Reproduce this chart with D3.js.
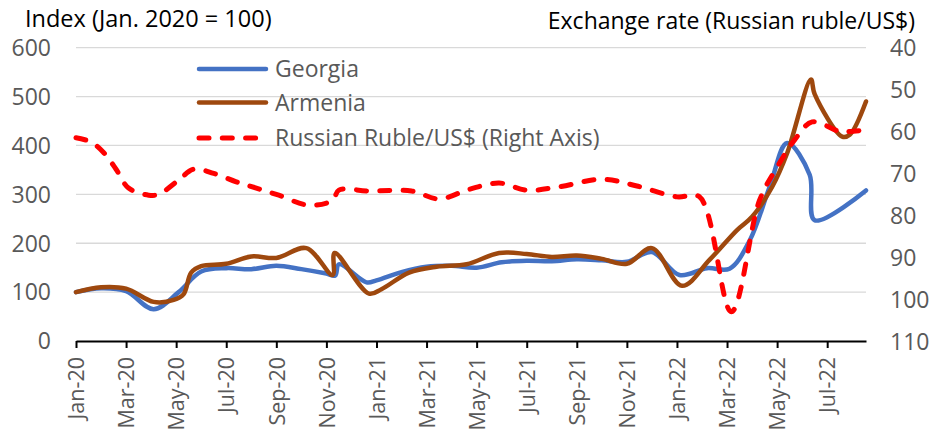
<!DOCTYPE html>
<html>
<head>
<meta charset="utf-8">
<script src="https://cdn.jsdelivr.net/npm/d3@7"></script>
<style>
body { margin: 0; background: #fff; }
svg { display: block; font-family: "Open Sans", Lato, sans-serif; }
</style>
</head>
<body>
<svg id="chart" width="935" height="438"></svg>
<script>
// x = months since Jan-20 (Excel month axis)
const tickLabels = ['Jan-20', 'Mar-20', 'May-20', 'Jul-20', 'Sep-20', 'Nov-20', 'Jan-21', 'Mar-21',
  'May-21', 'Jul-21', 'Sep-21', 'Nov-21', 'Jan-22', 'Mar-22', 'May-22', 'Jul-22'];
const tickMonths = [0, 2, 4, 6, 8, 10, 12, 14, 16, 18, 20, 22, 24, 26, 28, 30];
const leftTicks = [0, 100, 200, 300, 400, 500, 600];
const rightTicks = [40, 50, 60, 70, 80, 90, 100, 110];

const georgia = [[0, 100], [1, 108], [2, 102], [3.1, 65], [4.1, 100], [5, 142], [6, 149], [7, 147],
  [8, 154], [9, 147], [10, 138], [10.35, 134], [10.5, 157], [11.6, 120], [12, 124], [13, 141],
  [14, 152], [15, 154], [16, 150], [17, 161], [18, 164], [19, 163], [20, 167], [21, 165], [22, 162],
  [23, 182], [24.1, 135], [25.2, 149], [26.1, 148], [26.9, 205], [27.7, 315], [28.4, 405],
  [29.3, 340], [29.5, 247], [31.55, 308]];

const armenia = [[0, 100], [1, 110], [2, 107], [3.1, 80], [3.9, 84], [4.3, 96], [4.6, 140], [5, 153],
  [6, 158], [7, 173], [8, 170], [9.2, 190], [10.25, 135], [10.33, 180], [11.7, 97], [12.2, 106],
  [13.3, 140], [14.4, 152], [15.6, 157], [16.9, 180], [18, 178], [19, 172], [20, 175], [21, 168],
  [22, 158], [23, 190], [24.2, 113], [25.3, 166], [26.4, 227], [27, 254], [27.8, 315], [28.4, 384],
  [29.35, 535], [29.5, 505], [30.6, 418], [30.9, 422], [31.55, 490]];

const ruble = [[0, 61.5], [0.6, 62.5], [1.1, 65], [1.6, 69], [2.1, 73.5], [2.9, 75.2], [3.3, 75],
  [4.1, 71.6], [4.7, 69], [5.5, 70], [6.4, 72], [7.2, 73.5], [8.1, 75.2], [9.3, 77.6], [10.25, 76.4],
  [10.5, 74], [11.7, 74.2], [13.4, 74.2], [14.5, 76.1], [15.7, 73.8], [16.9, 72.3], [18, 74],
  [19.3, 73.2], [21, 71.4], [22.4, 73], [24, 75.6], [24.9, 75.6], [26.17, 103], [27.3, 76.4],
  [28, 68.5], [28.7, 62], [29.4, 57.7], [30.5, 60], [30.9, 60], [31.55, 59.6]];

const seriesNames = ['Georgia', 'Armenia', 'Russian Ruble/US$ (Right Axis)'];
const seriesColors = ['#4472C4', '#9E480E', '#FF0000'];

const svg = d3.select('#chart');
const plotLeft = 76, plotRight = 866, plotTop = 47.7, plotBottom = 341;

const x = d3.scaleLinear().domain([0, 31.55]).range([plotLeft, plotRight]);
const yL = d3.scaleLinear().domain([0, 600]).range([plotBottom, plotTop]);
const yR = d3.scaleLinear().domain([40, 110]).range([plotTop, plotBottom]);

// gridlines
svg.append('g')
  .selectAll('line')
  .data(leftTicks.filter(d => d > 0))
  .enter()
  .append('line')
  .attr('x1', plotLeft)
  .attr('x2', plotRight)
  .attr('y1', d => yL(d))
  .attr('y2', d => yL(d))
  .attr('stroke', '#D9D9D9')
  .attr('stroke-width', 1.3);

// left axis labels
svg.append('g')
  .selectAll('text')
  .data(leftTicks)
  .enter()
  .append('text')
  .attr('x', 51)
  .attr('y', d => yL(d))
  .attr('dy', '0.36em')
  .attr('text-anchor', 'end')
  .attr('fill', '#595959')
  .attr('font-size', 23)
  .text(d => d);

// right axis labels
svg.append('g')
  .selectAll('text')
  .data(rightTicks)
  .enter()
  .append('text')
  .attr('x', 890)
  .attr('y', d => yR(d))
  .attr('dy', '0.38em')
  .attr('fill', '#595959')
  .attr('font-size', 23)
  .text(d => d);

// x axis
const xAxis = d3.axisBottom(x)
  .tickValues(tickMonths)
  .tickSize(7)
  .tickSizeOuter(0)
  .tickFormat((d, i) => tickLabels[i]);
const gx = svg.append('g')
  .attr('transform', 'translate(0,' + plotBottom + ')')
  .call(xAxis);
gx.select('.domain').attr('stroke', '#000').attr('stroke-width', 2);
gx.selectAll('.tick line').attr('stroke', '#000').attr('stroke-width', 2);
gx.selectAll('.tick text')
  .attr('font-family', '"Open Sans", Lato, sans-serif')
  .attr('font-size', 21.5)
  .attr('fill', '#595959')
  .attr('text-anchor', 'end')
  .attr('transform', 'rotate(-90)')
  .attr('x', -16)
  .attr('y', 0)
  .attr('dy', '0.36em');

// lines
const lineL = d3.line()
  .x(d => x(d[0]))
  .y(d => yL(d[1]))
  .curve(d3.curveCatmullRom.alpha(0.5));
const lineR = d3.line()
  .x(d => x(d[0]))
  .y(d => yR(d[1]))
  .curve(d3.curveCatmullRom.alpha(0.5));

svg.append('path')
  .attr('d', lineL(georgia))
  .attr('fill', 'none')
  .attr('stroke', seriesColors[0])
  .attr('stroke-width', 4.5)
  .attr('stroke-linejoin', 'round')
  .attr('stroke-linecap', 'round');
svg.append('path')
  .attr('d', lineL(armenia))
  .attr('fill', 'none')
  .attr('stroke', seriesColors[1])
  .attr('stroke-width', 4.5)
  .attr('stroke-linejoin', 'round')
  .attr('stroke-linecap', 'round');
svg.append('path')
  .attr('d', lineR(ruble))
  .attr('fill', 'none')
  .attr('stroke', seriesColors[2])
  .attr('stroke-width', 5)
  .attr('stroke-dasharray', '10,13.3')
  .attr('stroke-linecap', 'round');

// axis titles
svg.append('text')
  .attr('x', 25)
  .attr('y', 27)
  .attr('font-size', 23.5)
  .attr('fill', '#000')
  .text('Index (Jan. 2020 = 100)');
svg.append('text')
  .attr('x', 915)
  .attr('y', 29)
  .attr('text-anchor', 'end')
  .attr('font-size', 23)
  .attr('fill', '#000')
  .text('Exchange rate (Russian ruble/US$)');

// legend
const legendY = [69, 102.5, 138];
const lg = svg.append('g')
  .selectAll('g')
  .data(seriesNames)
  .enter()
  .append('g')
  .attr('transform', (d, i) => 'translate(0,' + legendY[i] + ')');
lg.append('line')
  .attr('x1', 199)
  .attr('x2', 266)
  .attr('stroke', (d, i) => seriesColors[i])
  .attr('stroke-width', (d, i) => i === 2 ? 5 : 4.5)
  .attr('stroke-linecap', 'round')
  .attr('stroke-dasharray', (d, i) => i === 2 ? '10,13.3' : null);
lg.append('text')
  .attr('x', 275)
  .attr('dy', '0.36em')
  .attr('font-size', 23)
  .attr('fill', '#595959')
  .text(d => d);
</script>
</body>
</html>
